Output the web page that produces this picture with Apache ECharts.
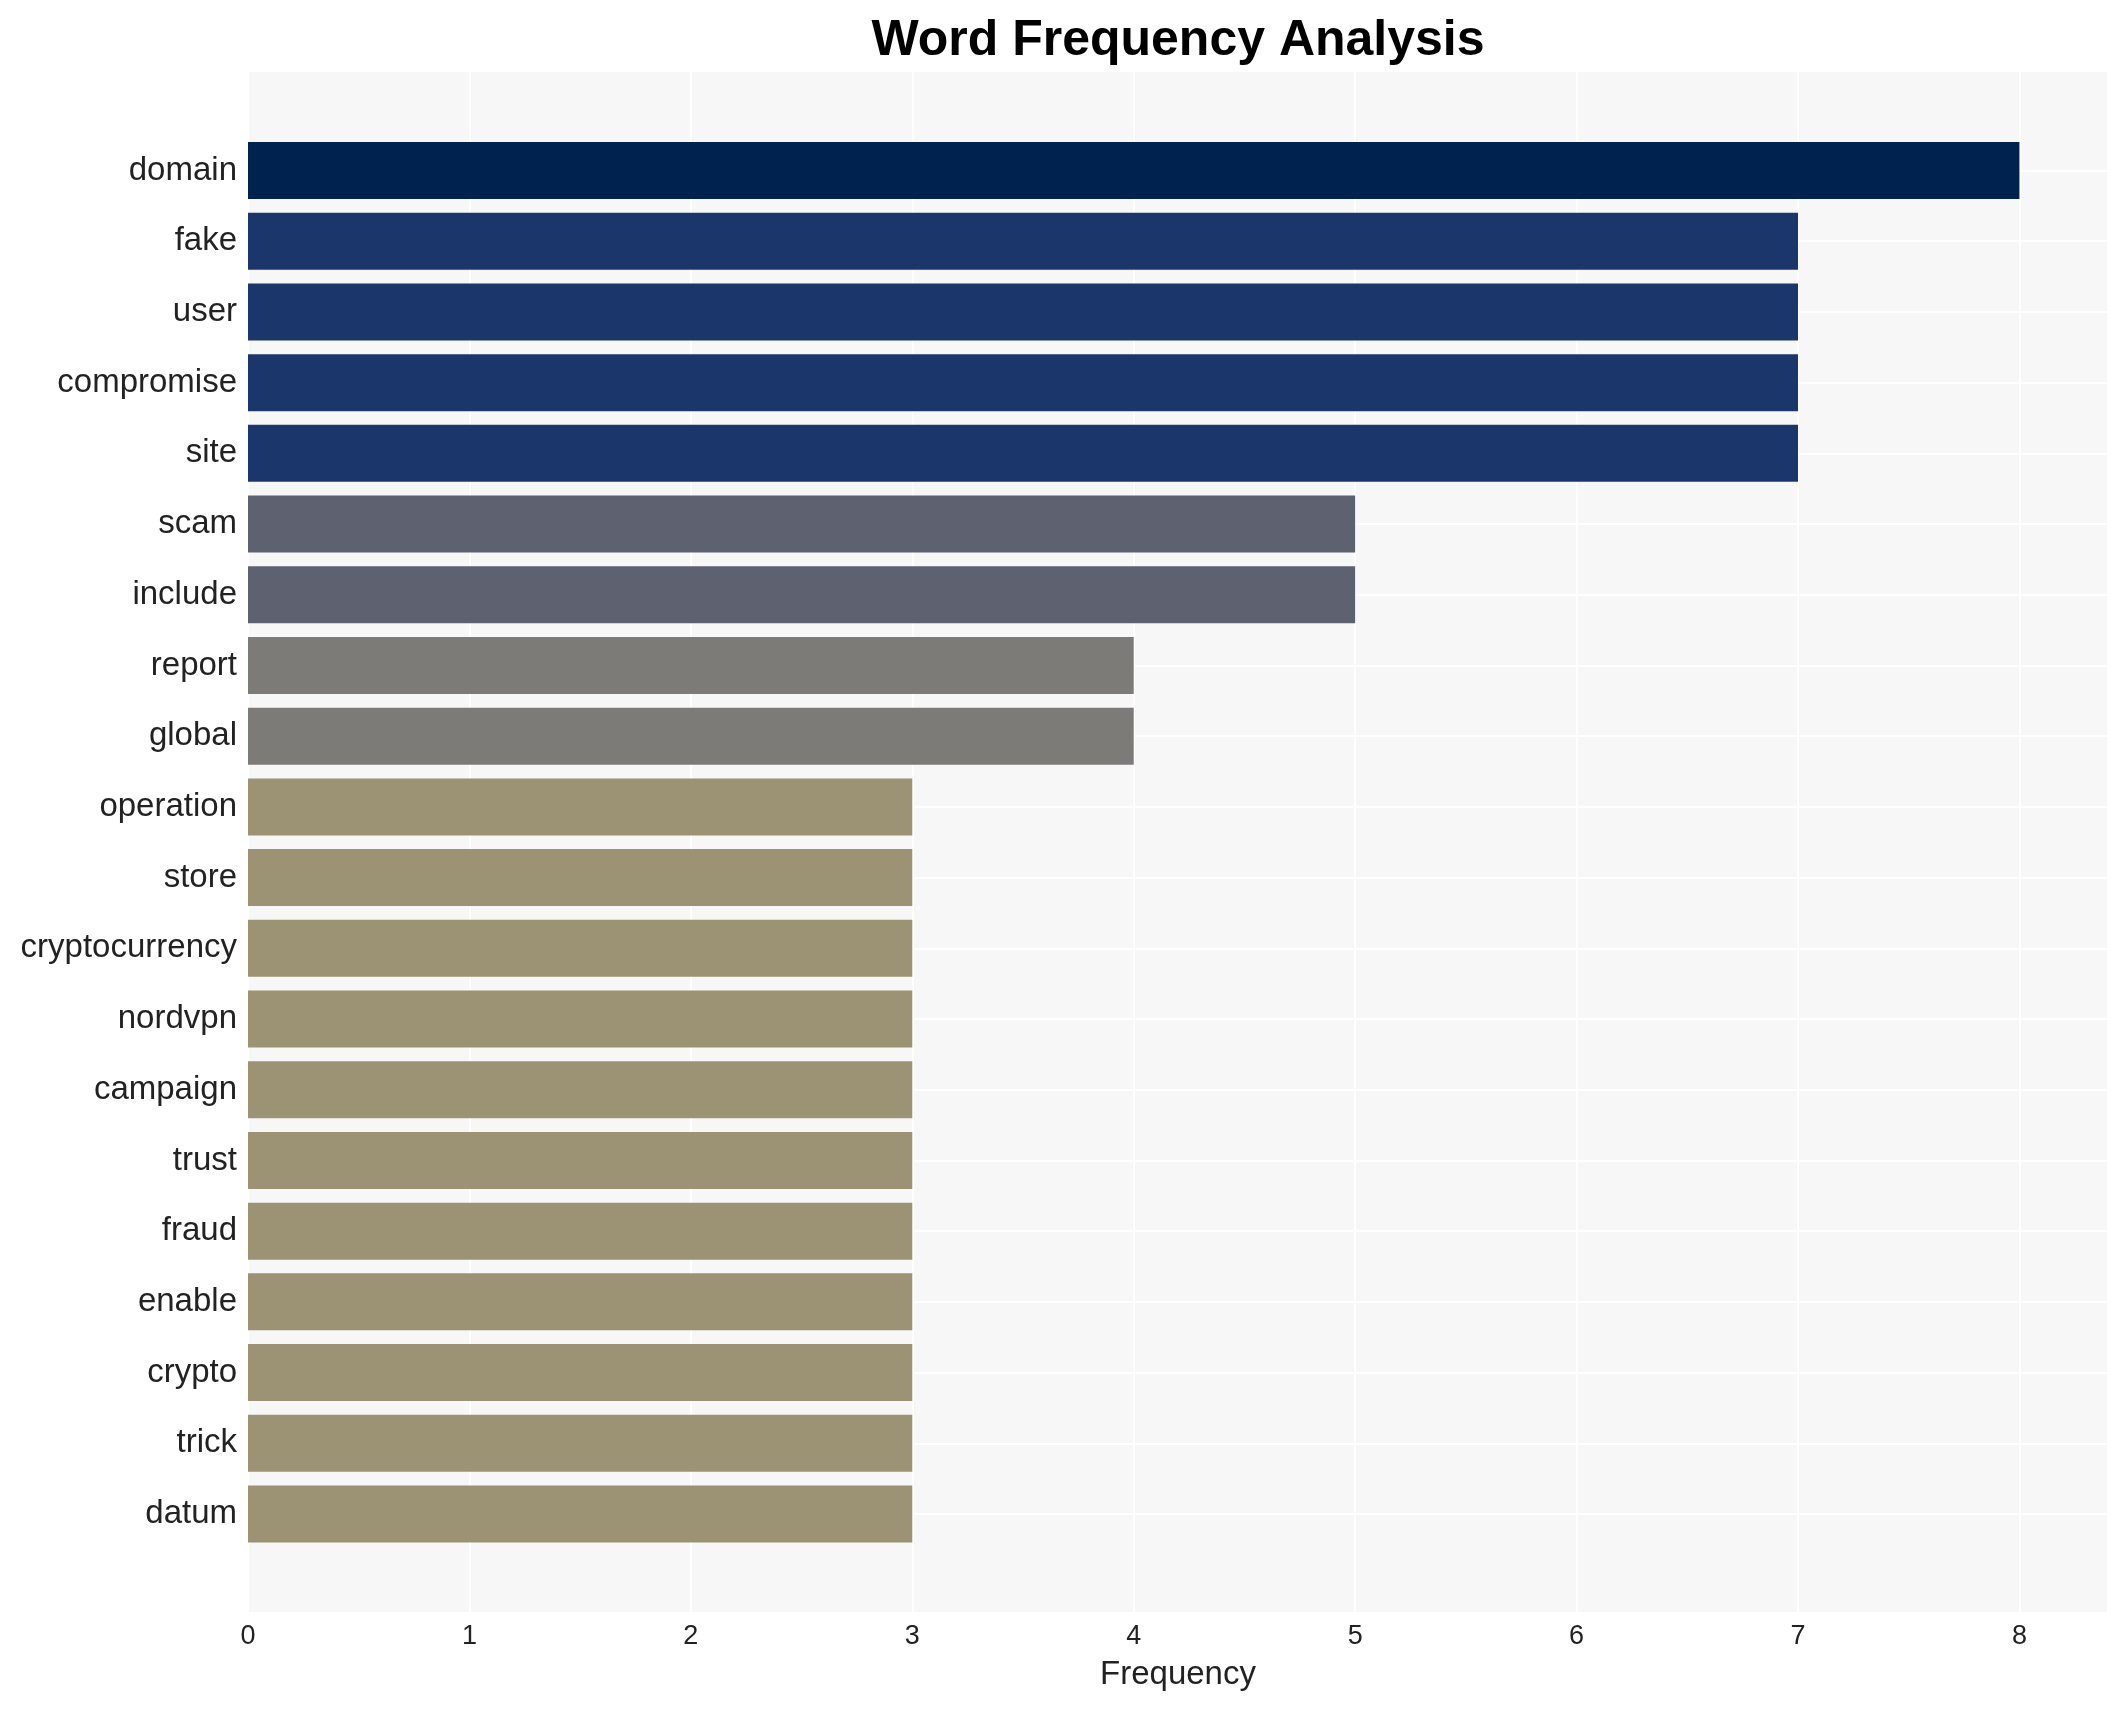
<!DOCTYPE html>
<html>
<head>
<meta charset="utf-8">
<script src="https://cdn.jsdelivr.net/npm/echarts@6/dist/echarts.min.js"></script>
<style>
html,body{margin:0;padding:0;background:#fff;}
#chart{width:2128px;height:1710px;}
</style>
</head>
<body>
<div id="chart"></div>
<script>
const categories = ["domain","fake","user","compromise","site","scam","include","report","global","operation","store","cryptocurrency","nordvpn","campaign","trust","fraud","enable","crypto","trick","datum"];
const frequencies = [8,7,7,7,7,5,5,4,4,3,3,3,3,3,3,3,3,3,3,3];
const barColors = ["#00224e","#1a366b","#1a366b","#1a366b","#1a366b","#5e6270","#5e6270","#7c7b78","#7c7b78","#9b9374","#9b9374","#9b9374","#9b9374","#9b9374","#9b9374","#9b9374","#9b9374","#9b9374","#9b9374","#9b9374"];
const xTicks = [0,1,2,3,4,5,6,7,8];

const FONT = "'Liberation Sans', Arial, Helvetica, sans-serif";
const chart = echarts.init(document.getElementById('chart'), null, {renderer:'canvas'});

const option = {
  backgroundColor: '#ffffff',
  animation: false,
  graphic: [{
    type: 'text',
    x: 1178, y: 41,
    style: {
      text: 'Word Frequency Analysis',
      font: 'bold 50px ' + FONT,
      fill: '#000000',
      textAlign: 'center',
      textVerticalAlign: 'middle'
    }
  }],
  grid: [
    {left: 248, right: 20, top: 72, bottom: 98, show: true, backgroundColor: '#f7f7f7', borderWidth: 0},
    {left: 248, right: 20, top: 170.5, height: 1343.5, show: false}
  ],
  xAxis: [
    {
      gridIndex: 0, type: 'value', min: 0, max: 8.4, interval: 1,
      name: 'Frequency', nameLocation: 'middle', nameGap: 46,
      nameTextStyle: {fontSize: 33, color: '#222222', fontFamily: FONT},
      axisLine: {show: false}, axisTick: {show: false},
      axisLabel: {
        fontSize: 27, color: '#222222', fontFamily: FONT, margin: 11,
        showMaxLabel: false,
        formatter: function(v){ return xTicks.indexOf(v) >= 0 ? String(v) : ''; }
      },
      splitLine: {show: true, lineStyle: {color: '#ffffff', width: 2}}
    },
    {
      gridIndex: 1, type: 'value', min: 0, max: 8.4, show: false,
      splitLine: {show: false}
    }
  ],
  yAxis: [
    {gridIndex: 0, type: 'value', show: false, splitLine: {show: false}},
    {
      gridIndex: 1, type: 'category', data: categories, inverse: true, boundaryGap: false,
      axisLine: {show: false}, axisTick: {show: false},
      axisLabel: {fontSize: 33, color: '#222222', fontFamily: FONT, margin: 11, interval: 0, padding: [4, 0, 0, 0]},
      splitLine: {show: true, lineStyle: {color: '#ffffff', width: 2}}
    }
  ],
  series: [{
    type: 'bar',
    xAxisIndex: 1, yAxisIndex: 1,
    barWidth: 57,
    clip: false,
    data: frequencies.map(function(v, i){ return {value: v, itemStyle: {color: barColors[i]}}; })
  }]
};
chart.setOption(option);
</script>
</body>
</html>
